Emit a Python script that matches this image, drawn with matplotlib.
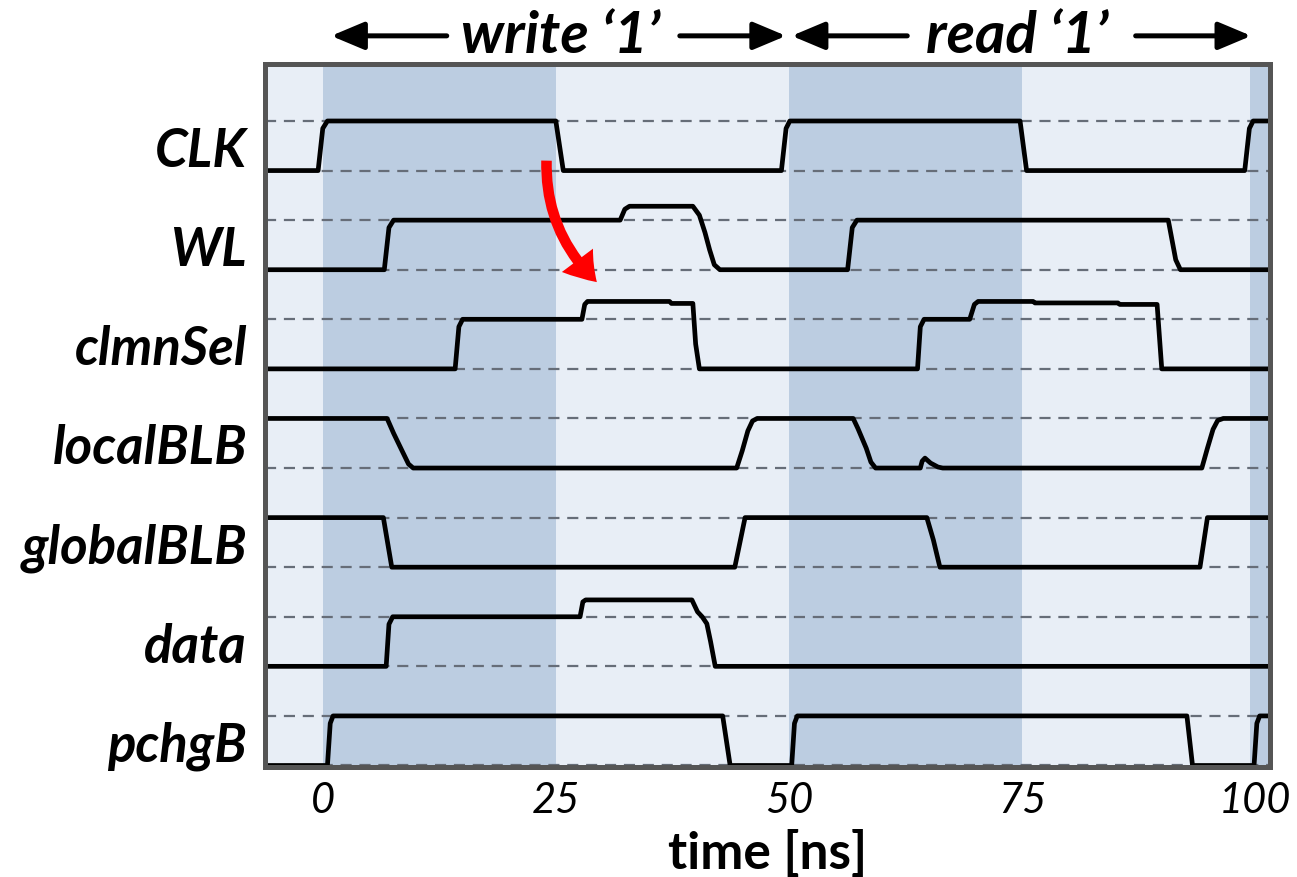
import matplotlib
matplotlib.use('Agg')
import matplotlib.pyplot as plt
from matplotlib.patches import FancyArrowPatch

# signal names, top to bottom
names = ['CLK', 'WL', 'clmnSel', 'localBLB', 'globalBLB', 'data', 'pchgB']

# waveforms: time [ns] and normalised level (0 = low, 1 = high)
clk_t = [-8, -0.5, 0.0, 0.5, 25.0, 25.8, 49.2, 49.7, 50.1, 74.8, 75.5, 98.9, 99.4, 99.8, 103]
clk_v = [0, 0, 0.85, 1, 1, 0, 0, 0.85, 1, 1, 0, 0, 0.85, 1, 1]

wl_t = [-8, 6.6, 7.1, 7.6, 31.9, 32.4, 32.9, 39.7, 40.4, 41.0, 41.5, 42.0, 42.6,
        56.3, 56.8, 57.3, 90.7, 91.5, 92.0, 103]
wl_v = [0, 0, 0.85, 1, 1, 1.22, 1.28, 1.28, 1.1, 0.75, 0.4, 0.1, 0,
        0, 0.85, 1, 1, 0.2, 0, 0]

cs_t = [-8, 14.2, 14.6, 15.0, 27.8, 28.1, 28.4, 37.2, 37.4, 39.7, 40.0, 40.4,
        63.8, 64.1, 64.5, 69.4, 69.9, 70.3, 76.2, 76.4, 85.3, 85.5, 89.5, 90.0, 103]
cs_v = [0, 0, 0.85, 1, 1, 1.3, 1.36, 1.36, 1.32, 1.32, 0.5, 0,
        0, 0.85, 1, 1, 1.3, 1.36, 1.36, 1.33, 1.33, 1.3, 1.3, 0, 0]

lb_t = [-8, 6.9, 7.6, 8.5, 9.2, 9.7, 44.4, 45.0, 45.6, 46.1, 46.6,
        56.9, 57.4, 58.3, 58.8, 59.3, 64.1, 64.3, 64.6, 65.2, 66.0, 66.5,
        94.3, 94.9, 95.5, 96.0, 96.6, 103]
lb_v = [1, 1, 0.7, 0.35, 0.08, 0, 0, 0.35, 0.75, 0.95, 1,
        1, 0.8, 0.4, 0.12, 0, 0, 0.14, 0.2, 0.1, 0.02, 0,
        0, 0.4, 0.78, 0.96, 1, 1]

gb_t = [-8, 6.5, 7.4, 44.2, 45.3, 64.8, 65.5, 66.2, 94.1, 94.9, 103]
gb_v = [1, 1, 0, 0, 1, 1, 0.55, 0, 0, 1, 1]

dt_t = [-8, 6.8, 7.1, 7.5, 27.6, 27.9, 28.2, 39.6, 40.2, 40.7, 41.2, 41.6, 42.1, 103]
dt_v = [0, 0, 0.85, 1, 1, 1.3, 1.34, 1.34, 1.1, 1.0, 0.86, 0.5, 0, 0]

pb_t = [-8, 0.5, 0.8, 1.1, 42.9, 43.7, 50.3, 50.6, 50.9, 92.7, 93.3, 99.9, 100.2, 100.5, 103]
pb_v = [0, 0, 0.85, 1, 1, 0, 0, 0.85, 1, 1, 0, 0, 0.85, 1, 1]

waves = [(clk_t, clk_v), (wl_t, wl_v), (cs_t, cs_v), (lb_t, lb_v),
         (gb_t, gb_v), (dt_t, dt_v), (pb_t, pb_v)]

# shaded clock phases
bands = [(0, 25), (50, 75), (99.5, 103)]
ticks = [0, 25, 50, 75, 100]
phases = [(25.5, "write \u20181\u2019", (13.3, 0.9), (38.3, 49.7)),
          (74.5, "read \u20181\u2019", (62.7, 50.3), (87.2, 99.6))]

plt.rcParams['font.family'] = ['Lato', 'DejaVu Sans']

fig = plt.figure(figsize=(12.97, 8.78), dpi=100)
ax = fig.add_axes([0.2043, 0.1253, 0.7748, 0.8007])
ax.set_facecolor('#e8eef6')
for a, b in bands:
    ax.axvspan(a, b, color='#bccde1', lw=0, zorder=0)

n = len(names)
for i, (t, v) in enumerate(waves):
    base = 2 * (n - 1 - i)
    for lev in (base, base + 1):
        ax.axhline(lev, color='#666d78', lw=1.6, ls=(0, (5, 3.5)), zorder=1)
    ax.plot(t, [base + x for x in v], color='black', lw=3.4, zorder=3,
            solid_joinstyle='round')

ax.set_xlim(-6.2, 101.6)
ax.set_ylim(-0.03, 14.15)

ax.set_yticks([2 * (n - 1 - i) + 0.5 for i in range(n)])
ax.set_yticklabels(names, fontsize=38, fontweight='bold', fontstyle='italic')
ax.set_xticks(ticks)
ax.set_xticklabels([str(x) for x in ticks], fontsize=30, fontstyle='italic')
ax.tick_params(axis='both', length=0)
ax.tick_params(axis='y', pad=13)
ax.tick_params(axis='x', pad=10)
ax.set_xlabel('time [ns]', fontsize=37, fontweight='bold', labelpad=7)

for s in ax.spines.values():
    s.set_color('#555555')
    s.set_linewidth(3.6)
    s.set_zorder(5)

# phase headers with arrows
tr = ax.get_xaxis_transform()
for xc, label, left, right in phases:
    ax.text(xc, 1.04, label, transform=tr, ha='center', va='center',
            fontsize=42, fontweight='bold', fontstyle='italic', clip_on=False)
    for x0, x1 in (left, right):
        ax.annotate('', xy=(x1, 1.04), xytext=(x0, 1.04), xycoords=tr, textcoords=tr,
                    arrowprops=dict(arrowstyle='-|>,head_length=1.0,head_width=0.42',
                                    color='black', lw=3.6, shrinkA=0, shrinkB=0,
                                    mutation_scale=20))

# red causality arrow
arr = FancyArrowPatch((24.0, 12.2), (29.4, 9.75), connectionstyle='arc3,rad=0.22',
                      arrowstyle='Simple,tail_width=0.38,head_width=1.4,head_length=1.05',
                      mutation_scale=20, color='#ff0000', lw=0, zorder=6,
                      shrinkA=0, shrinkB=0)
ax.add_patch(arr)

fig.savefig('out.png', dpi=100)
